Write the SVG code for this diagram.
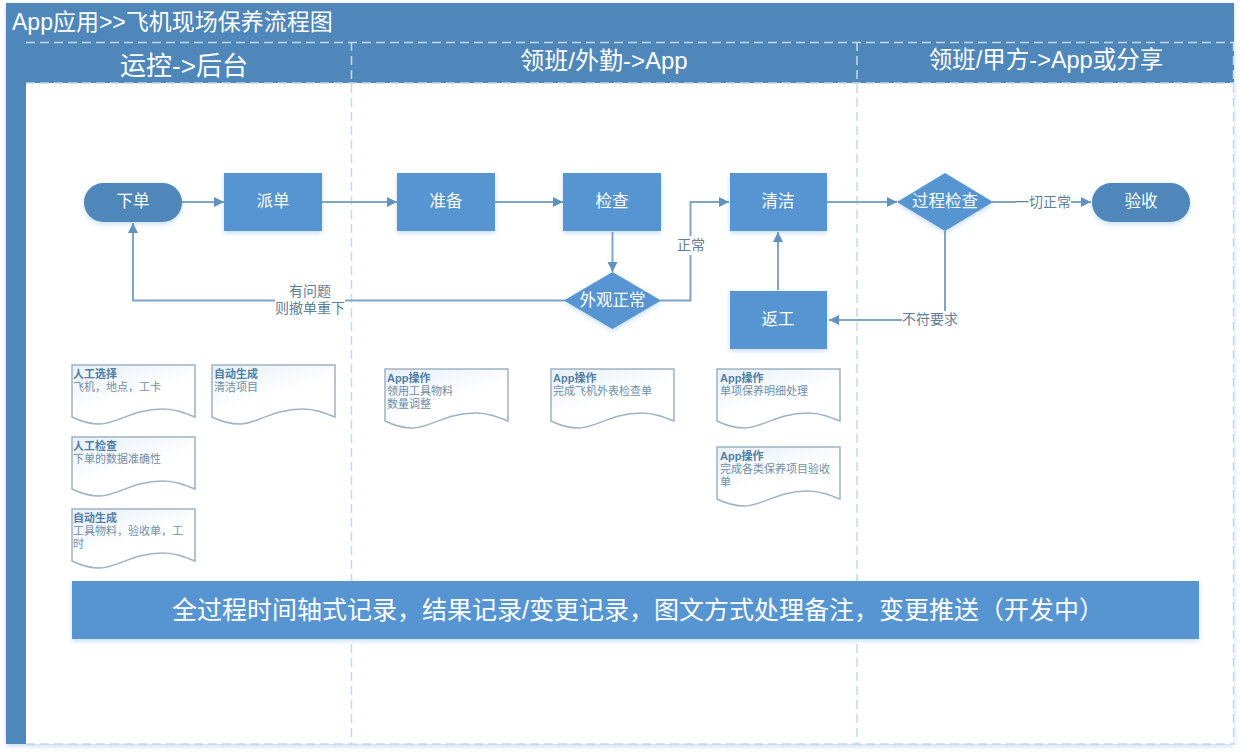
<svg xmlns="http://www.w3.org/2000/svg" width="1240" height="752" viewBox="0 0 1240 752">
<defs>
<filter id="sh" x="-20%" y="-20%" width="140%" height="140%"><feDropShadow dx="0" dy="2" stdDeviation="2.5" flood-color="#5b9bd5" flood-opacity="0.35"/></filter>
<linearGradient id="doc" x1="0" y1="0" x2="0.6" y2="1"><stop offset="0" stop-color="#e6eff7"/><stop offset="0.6" stop-color="#ffffff"/></linearGradient>
<marker id="arr" markerUnits="userSpaceOnUse" markerWidth="12" markerHeight="12" refX="10" refY="5" orient="auto"><path d="M0,0 L10,5 L0,10 Z" fill="#5f93bf"/></marker>
<path id="wave" d="M0,0 H123 V52 C113,48 103,44 91,44 C60,44 45,59 28,59 C20,59 10,57 0,52 Z"/>
</defs>
<style>
text{font-family:"Liberation Sans","Noto Sans CJK SC",sans-serif;}
.w{fill:#fff;text-anchor:middle;}
.n{font-size:16.500px;}
.fill{fill:#5795d2;filter:url(#sh);}
.dark{fill:#4f87ba;filter:url(#sh);}
.c{fill:none;stroke:#7ea6c8;stroke-width:2;}
.a{marker-end:url(#arr);}
.l{font-size:14px;fill:#5f7f99;text-anchor:middle;}
.doc{fill:url(#doc);stroke:#9fb3c2;stroke-width:1.5;}
.dt{font-size:11px;font-weight:700;fill:#4f7fa6;}
.db{font-size:11px;fill:#6f8fa8;}
.dash{fill:none;stroke:#c5d9ec;stroke-width:1.5;stroke-dasharray:9 5;}
</style>
<rect width="1240" height="752" fill="#fff"/>
<g id="frame">
<rect x="6" y="3" width="1228" height="741" fill="#fff" filter="url(#sh)"/>
<rect x="6" y="3" width="1228" height="39" fill="#4f87ba"/>
<rect x="6" y="42" width="20" height="702" fill="#4f87ba"/>
<rect x="26" y="42" width="1208" height="41" fill="#4f87ba"/>
<path class="dash" d="M26,42.500 H1234 M26,83 H1234 M351.500,42 V744 M857,42 V744 M1233.500,42 V744 M26,744 H1234"/>
<text x="12" y="30" font-size="23" fill="#fff">App应用&gt;&gt;飞机现场保养流程图</text>
<text class="w" x="184" y="75" font-size="26">运控-&gt;后台</text>
<text class="w" x="604" y="69" font-size="24">领班/外勤-&gt;App</text>
<text class="w" x="1046" y="68" font-size="23.500">领班/甲方-&gt;App或分享</text>
</g>
<g id="connectors">
<path class="c a" d="M182,202 H224"/>
<path class="c a" d="M322,202 H397"/>
<path class="c a" d="M495,202 H563"/>
<path class="c a" d="M612.500,232 V272"/>
<path class="c a" d="M660,300.500 H690.500 V202 H729"/>
<path class="c a" d="M565,300.500 H133 V223"/>
<path class="c a" d="M778,290 V232"/>
<path class="c a" d="M827,202 H897"/>
<path class="c a" d="M945,231 V320 H829"/>
<path class="c a" d="M992,202 H1091"/>
<g id="connector-labels">
<rect x="676" y="236" width="29" height="19" fill="#fff"/>
<text class="l" x="691" y="250">正常</text>
<rect x="275" y="283" width="70" height="34" fill="#fff"/>
<text class="l" x="310" y="296">有问题</text>
<text class="l" x="310" y="313">则撤单重下</text>
<rect x="902" y="311" width="56" height="18" fill="#fff"/>
<text class="l" x="930" y="324">不符要求</text>
<rect x="1016" y="194" width="55" height="17" fill="#fff"/>
<text class="l" x="1043" y="207">一切正常</text>
</g>
</g>
<g id="node-xiadan"><rect class="dark" x="84" y="183" width="98" height="39" rx="19.500"/><text class="w n" x="133" y="207">下单</text></g>
<g id="node-paidan"><rect class="fill" x="224" y="173" width="98" height="58"/><text class="w n" x="273" y="207">派单</text></g>
<g id="node-zhunbei"><rect class="fill" x="397" y="173" width="98" height="58"/><text class="w n" x="446" y="207">准备</text></g>
<g id="node-jiancha"><rect class="fill" x="563" y="173" width="98" height="58"/><text class="w n" x="612" y="207">检查</text></g>
<g id="node-qingjie"><rect class="fill" x="730" y="173" width="97" height="58"/><text class="w n" x="778" y="207">清洁</text></g>
<g id="node-guocheng"><path class="fill" d="M945,173 L993,202 L945,231 L897,202 Z"/><text class="w n" x="945" y="207">过程检查</text></g>
<g id="node-yanshou"><rect class="dark" x="1092" y="183" width="98" height="39" rx="19.500"/><text class="w n" x="1141" y="207">验收</text></g>
<g id="node-waiguan"><path class="fill" d="M612.500,272 L661,300.500 L612.500,329 L564,300.500 Z"/><text class="w n" x="612.500" y="306">外观正常</text></g>
<g id="node-fangong"><rect class="fill" x="730" y="291" width="97" height="58"/><text class="w n" x="778" y="325">返工</text></g>
<g id="doc-1"><use href="#wave" class="doc" x="72" y="365"/><text class="dt" x="73" y="378">人工选择</text><text class="db" x="73" y="391">飞机，地点，工卡</text></g>
<g id="doc-2"><use href="#wave" class="doc" x="212" y="365"/><text class="dt" x="214" y="378">自动生成</text><text class="db" x="214" y="391">清洁项目</text></g>
<g id="doc-3"><use href="#wave" class="doc" x="72" y="437"/><text class="dt" x="73" y="450">人工检查</text><text class="db" x="73" y="463">下单的数据准确性</text></g>
<g id="doc-4"><use href="#wave" class="doc" x="72" y="509"/><text class="dt" x="73" y="522">自动生成</text><text class="db" x="73" y="535">工具物料，验收单，工</text><text class="db" x="73" y="548">时</text></g>
<g id="doc-5"><use href="#wave" class="doc" x="385" y="369"/><text class="dt" x="387" y="382">App操作</text><text class="db" x="387" y="395">领用工具物料</text><text class="db" x="387" y="408">数量调整</text></g>
<g id="doc-6"><use href="#wave" class="doc" x="551" y="369"/><text class="dt" x="553" y="382">App操作</text><text class="db" x="553" y="395">完成飞机外表检查单</text></g>
<g id="doc-7"><use href="#wave" class="doc" x="717" y="369"/><text class="dt" x="720" y="382">App操作</text><text class="db" x="720" y="395">单项保养明细处理</text></g>
<g id="doc-8"><use href="#wave" class="doc" x="717" y="447"/><text class="dt" x="720" y="460">App操作</text><text class="db" x="720" y="473">完成各类保养项目验收</text><text class="db" x="720" y="486">单</text></g>
<g id="banner"><rect class="fill" x="72" y="581" width="1127" height="58"/><text class="w" x="638" y="619" font-size="25">全过程时间轴式记录，结果记录/变更记录，图文方式处理备注，变更推送（开发中）</text></g>
</svg>
